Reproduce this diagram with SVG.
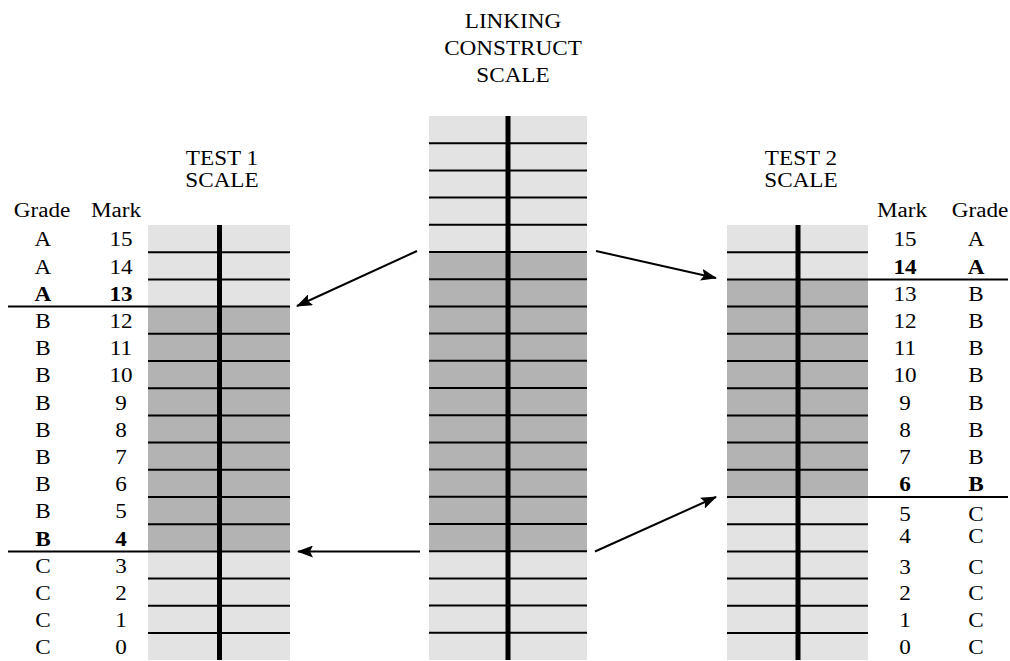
<svg xmlns="http://www.w3.org/2000/svg" width="1010" height="661" viewBox="0 0 1010 661">
<style>
text{font-family:"Liberation Serif","Times New Roman",serif;font-size:20.5px;fill:#000;text-anchor:middle}
.b{font-weight:bold}
.lt{fill:#e3e3e3}
.dk{fill:#b3b3b3}
.rl{stroke:#000;stroke-width:2}
.ax{stroke:#000;stroke-width:5}
.cn{stroke:#000;stroke-width:2;fill:none;marker-end:url(#ah)}
</style>
<defs>
<marker id="ah" markerUnits="userSpaceOnUse" markerWidth="16" markerHeight="12" refX="15" refY="6" orient="auto">
<path d="M0,0 L16,6 L0,12 L3,6 z" fill="#000"/>
</marker>
</defs>
<rect width="1010" height="661" fill="#fff"/>

<g id="linking-scale">
<g transform="scale(1.13,1)">
<text x="453.98" y="28">LINKING</text>
<text x="453.98" y="55">CONSTRUCT</text>
<text x="453.98" y="82">SCALE</text>
</g>
<rect class="lt" x="429" y="116" width="158" height="136"/>
<rect class="dk" x="429" y="252" width="158" height="299.2"/>
<rect class="lt" x="429" y="551.2" width="158" height="108.8"/>
<g class="rl">
<line x1="429" x2="587" y1="143.2" y2="143.2"/>
<line x1="429" x2="587" y1="170.4" y2="170.4"/>
<line x1="429" x2="587" y1="197.6" y2="197.6"/>
<line x1="429" x2="587" y1="224.8" y2="224.8"/>
<line x1="429" x2="587" y1="252" y2="252"/>
<line x1="429" x2="587" y1="279.2" y2="279.2"/>
<line x1="429" x2="587" y1="306.4" y2="306.4"/>
<line x1="429" x2="587" y1="333.6" y2="333.6"/>
<line x1="429" x2="587" y1="360.8" y2="360.8"/>
<line x1="429" x2="587" y1="388" y2="388"/>
<line x1="429" x2="587" y1="415.2" y2="415.2"/>
<line x1="429" x2="587" y1="442.4" y2="442.4"/>
<line x1="429" x2="587" y1="469.6" y2="469.6"/>
<line x1="429" x2="587" y1="496.8" y2="496.8"/>
<line x1="429" x2="587" y1="524" y2="524"/>
<line x1="429" x2="587" y1="551.2" y2="551.2"/>
<line x1="429" x2="587" y1="578.4" y2="578.4"/>
<line x1="429" x2="587" y1="605.6" y2="605.6"/>
<line x1="429" x2="587" y1="632.8" y2="632.8"/>
</g>
<line class="ax" x1="508" x2="508" y1="116" y2="660"/>
</g>

<g id="test1-scale">
<rect class="lt" x="148" y="225" width="142" height="81.6"/>
<rect class="dk" x="148" y="306.6" width="142" height="244.8"/>
<rect class="lt" x="148" y="551.4" width="142" height="108.8"/>
<g class="rl">
<line x1="148" x2="290" y1="252.2" y2="252.2"/>
<line x1="148" x2="290" y1="279.4" y2="279.4"/>
<line x1="8" x2="290" y1="306.6" y2="306.6"/>
<line x1="148" x2="290" y1="333.8" y2="333.8"/>
<line x1="148" x2="290" y1="361" y2="361"/>
<line x1="148" x2="290" y1="388.2" y2="388.2"/>
<line x1="148" x2="290" y1="415.4" y2="415.4"/>
<line x1="148" x2="290" y1="442.6" y2="442.6"/>
<line x1="148" x2="290" y1="469.8" y2="469.8"/>
<line x1="148" x2="290" y1="497" y2="497"/>
<line x1="148" x2="290" y1="524.2" y2="524.2"/>
<line x1="8" x2="290" y1="551.4" y2="551.4"/>
<line x1="148" x2="290" y1="578.6" y2="578.6"/>
<line x1="148" x2="290" y1="605.8" y2="605.8"/>
<line x1="148" x2="290" y1="633" y2="633"/>
</g>
<line class="ax" x1="219.5" x2="219.5" y1="225" y2="660"/>
<g transform="scale(1.13,1)">
<text x="196.46" y="165">TEST 1</text>
<text x="196.46" y="187">SCALE</text>
<text x="37.17" y="217">Grade</text>
<text x="102.65" y="217">Mark</text>
<g id="test1-grades">
<text x="38.05" y="246.5">A</text>
<text x="38.05" y="273.7">A</text>
<text x="38.05" y="300.9" class="b">A</text>
<text x="38.05" y="328.1">B</text>
<text x="38.05" y="355.3">B</text>
<text x="38.05" y="382.5">B</text>
<text x="38.05" y="409.7">B</text>
<text x="38.05" y="436.9">B</text>
<text x="38.05" y="464.1">B</text>
<text x="38.05" y="491.3">B</text>
<text x="38.05" y="518.5">B</text>
<text x="38.05" y="545.7" class="b">B</text>
<text x="38.05" y="572.9">C</text>
<text x="38.05" y="600.1">C</text>
<text x="38.05" y="627.3">C</text>
<text x="38.05" y="654.5">C</text>
</g>
<g id="test1-marks">
<text x="107.08" y="246.5">15</text>
<text x="107.08" y="273.7">14</text>
<text x="107.08" y="300.9" class="b">13</text>
<text x="107.08" y="328.1">12</text>
<text x="107.08" y="355.3">11</text>
<text x="107.08" y="382.5">10</text>
<text x="107.08" y="409.7">9</text>
<text x="107.08" y="436.9">8</text>
<text x="107.08" y="464.1">7</text>
<text x="107.08" y="491.3">6</text>
<text x="107.08" y="518.5">5</text>
<text x="107.08" y="545.7" class="b">4</text>
<text x="107.08" y="572.9">3</text>
<text x="107.08" y="600.1">2</text>
<text x="107.08" y="627.3">1</text>
<text x="107.08" y="654.5">0</text>
</g>
</g>
</g>

<g id="test2-scale">
<rect class="lt" x="727" y="225" width="141" height="54.4"/>
<rect class="dk" x="727" y="279.4" width="141" height="217.6"/>
<rect class="lt" x="727" y="497" width="141" height="163.2"/>
<g class="rl">
<line x1="727" x2="868" y1="252.2" y2="252.2"/>
<line x1="727" x2="1008" y1="279.4" y2="279.4"/>
<line x1="727" x2="868" y1="306.6" y2="306.6"/>
<line x1="727" x2="868" y1="333.8" y2="333.8"/>
<line x1="727" x2="868" y1="361" y2="361"/>
<line x1="727" x2="868" y1="388.2" y2="388.2"/>
<line x1="727" x2="868" y1="415.4" y2="415.4"/>
<line x1="727" x2="868" y1="442.6" y2="442.6"/>
<line x1="727" x2="868" y1="469.8" y2="469.8"/>
<line x1="727" x2="1008" y1="497" y2="497"/>
<line x1="727" x2="868" y1="524.2" y2="524.2"/>
<line x1="727" x2="868" y1="551.4" y2="551.4"/>
<line x1="727" x2="868" y1="578.6" y2="578.6"/>
<line x1="727" x2="868" y1="605.8" y2="605.8"/>
<line x1="727" x2="868" y1="633" y2="633"/>
</g>
<line class="ax" x1="798" x2="798" y1="225" y2="660"/>
<g transform="scale(1.13,1)">
<text x="708.85" y="165">TEST 2</text>
<text x="708.85" y="187">SCALE</text>
<text x="798.23" y="217">Mark</text>
<text x="867.26" y="217">Grade</text>
<g id="test2-marks">
<text x="800.88" y="246.5">15</text>
<text x="800.88" y="273.7" class="b">14</text>
<text x="800.88" y="300.9">13</text>
<text x="800.88" y="328.1">12</text>
<text x="800.88" y="355.3">11</text>
<text x="800.88" y="382.5">10</text>
<text x="800.88" y="409.7">9</text>
<text x="800.88" y="436.9">8</text>
<text x="800.88" y="464.1">7</text>
<text x="800.88" y="491.3" class="b">6</text>
<text x="800.88" y="521">5</text>
<text x="800.88" y="543">4</text>
<text x="800.88" y="574">3</text>
<text x="800.88" y="600.1">2</text>
<text x="800.88" y="627.3">1</text>
<text x="800.88" y="654.5">0</text>
</g>
<g id="test2-grades">
<text x="863.72" y="246.5">A</text>
<text x="863.72" y="273.7" class="b">A</text>
<text x="863.72" y="300.9">B</text>
<text x="863.72" y="328.1">B</text>
<text x="863.72" y="355.3">B</text>
<text x="863.72" y="382.5">B</text>
<text x="863.72" y="409.7">B</text>
<text x="863.72" y="436.9">B</text>
<text x="863.72" y="464.1">B</text>
<text x="863.72" y="491.3" class="b">B</text>
<text x="863.72" y="521">C</text>
<text x="863.72" y="543">C</text>
<text x="863.72" y="574">C</text>
<text x="863.72" y="600.1">C</text>
<text x="863.72" y="627.3">C</text>
<text x="863.72" y="654.5">C</text>
</g>
</g>
</g>

<g id="connectors">
<line class="cn" x1="417" y1="251" x2="297" y2="306"/>
<line class="cn" x1="596" y1="251" x2="716" y2="278"/>
<line class="cn" x1="420" y1="551.5" x2="298" y2="551.5"/>
<line class="cn" x1="595" y1="551.5" x2="716" y2="497"/>
</g>
</svg>
